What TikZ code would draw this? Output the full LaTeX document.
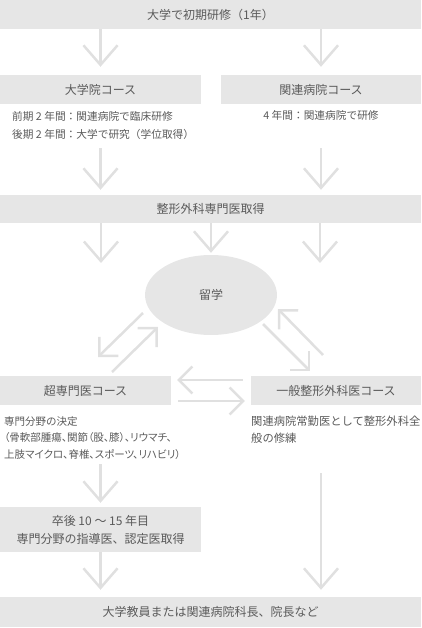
\documentclass[tikz,border=0pt]{standalone}
\usepackage{fontspec}
\setmainfont{Noto Sans CJK JP}
\newfontfamily\kumi[RawFeature=+palt]{Noto Sans CJK JP}
\usetikzlibrary{arrows.meta,positioning,shapes.geometric}
\definecolor{hakoiro}{HTML}{E6E6E6}
\definecolor{yajiiro}{HTML}{E0E0E0}
\definecolor{moji}{HTML}{5A5A5A}
\tikzset{
  hako/.style={fill=hakoiro,inner sep=0pt,text=moji,align=center,
    font=\fontsize{12}{18}\selectfont},
  daen/.style={ellipse,fill=hakoiro,inner sep=0pt,text=moji,
    font=\fontsize{12}{18}\selectfont},
  chu/.style={inner sep=0pt,text=moji,align=left,
    font=\fontsize{10.7}{18}\selectfont},
  yaji/.style={draw=yajiiro,line width=2.5pt,-{Straight Barb[angle=82:26pt]}},
  ko/.style={-{Straight Barb[angle=90:19pt]}},
}

\begin{document}
\begin{tikzpicture}[x=1pt,y=-1pt]
  \useasboundingbox (0,0) rectangle (421,628);
  % boxes
  \node[hako,minimum width=421pt,minimum height=29pt] (kenshu) at (210.5,14.5) {大学で初期研修（1年）};
  \node[hako,minimum width=201pt,minimum height=29pt] (daigakuin) at (100.5,89.5) {大学院コース};
  \node[hako,minimum width=200pt,minimum height=29pt] (kanren) at (321,89.5) {関連病院コース};
  \node[chu,anchor=north west] (chu1) at (12,111) {前期 2 年間：関連病院で臨床研修\\後期 2 年間：大学で研究（学位取得）};
  \node[chu] (chu2) at (321,115) {4 年間：関連病院で研修};
  \node[hako,minimum width=421pt,minimum height=28pt] (senmoni) at (210.5,209) {整形外科専門医取得};
  \node[daen,minimum width=132pt,minimum height=80pt] (ryugaku) at (211,295) {留学};
  \node[hako,minimum width=171pt,minimum height=29pt] (chosenmon) at (85.5,390.5) {超専門医コース};
  \node[hako,minimum width=170pt,minimum height=29pt] (ippan) at (336,390.5) {一般整形外科医コース};
  \node[chu,anchor=north west,font=\fontsize{10.5}{16.5}\selectfont] (chu3) at (4,416)
    {専門分野の決定\\{\kumi （骨軟部腫瘍、関節（股、膝）、リウマチ、}\\{\kumi 上肢マイクロ、脊椎、スポーツ、リハビリ）}};
  \node[chu,anchor=north west,font=\fontsize{11.3}{17}\selectfont] (chu4) at (251,416)
    {関連病院常勤医として整形外科全\\般の修練};
  \node[hako,minimum width=201pt,minimum height=45pt] (sotsugo) at (100.5,529.5) {卒後 10 〜 15 年目\\専門分野の指導医、認定医取得};
  \node[hako,minimum width=421pt,minimum height=30pt] (shorai) at (210.5,612) {大学教員または関連病院科長、院長など};
  % free ends
  \coordinate (d1) at (100.5,148);
  \coordinate (d2) at (321,148);
  \coordinate (r1) at (101,263);
  \coordinate (r2) at (320,263);
  \coordinate (l1) at (143,313); \coordinate (l2) at (98,357);
  \coordinate (l3) at (112,372); \coordinate (l4) at (158,327);
  \coordinate (m1) at (263,324); \coordinate (m2) at (310,371);
  \coordinate (m3) at (323,355); \coordinate (m4) at (278,309);
  \coordinate (s1) at (100.5,464);
  \coordinate (s2) at (321,473);
  % arrows
  \draw[yaji,shorten >=8pt] (kenshu.south -| daigakuin) -- (daigakuin.north);
  \draw[yaji,shorten >=8pt] (kenshu.south -| kanren) -- (kanren.north);
  \draw[yaji,shorten >=5pt] (d1) -- (senmoni.north -| d1);
  \draw[yaji,shorten >=5pt] (d2) -- (senmoni.north -| d2);
  \draw[yaji] (senmoni.south -| r1) -- (r1);
  \draw[yaji,shorten >=2pt] (senmoni.south -| ryugaku) -- (ryugaku.north);
  \draw[yaji] (senmoni.south -| r2) -- (r2);
  \draw[yaji,ko] (l1) -- (l2);
  \draw[yaji,ko] (l3) -- (l4);
  \draw[yaji,ko] (m1) -- (m2);
  \draw[yaji,ko] (m3) -- (m4);
  \draw[yaji,ko,shorten <=8pt,shorten >=6pt] ([yshift=10.5pt]ippan.west) -- ([yshift=10.5pt]chosenmon.east);
  \draw[yaji,ko,shorten <=7pt,shorten >=6pt] ([yshift=-10.5pt]chosenmon.east) -- ([yshift=-10.5pt]ippan.west);
  \draw[yaji,shorten >=4pt] (s1) -- (sotsugo.north -| s1);
  \draw[yaji,shorten >=7pt] (s2) -- (shorai.north -| s2);
  \draw[yaji,shorten >=7pt] (sotsugo.south) -- (shorai.north -| sotsugo);
\end{tikzpicture}
\end{document}
